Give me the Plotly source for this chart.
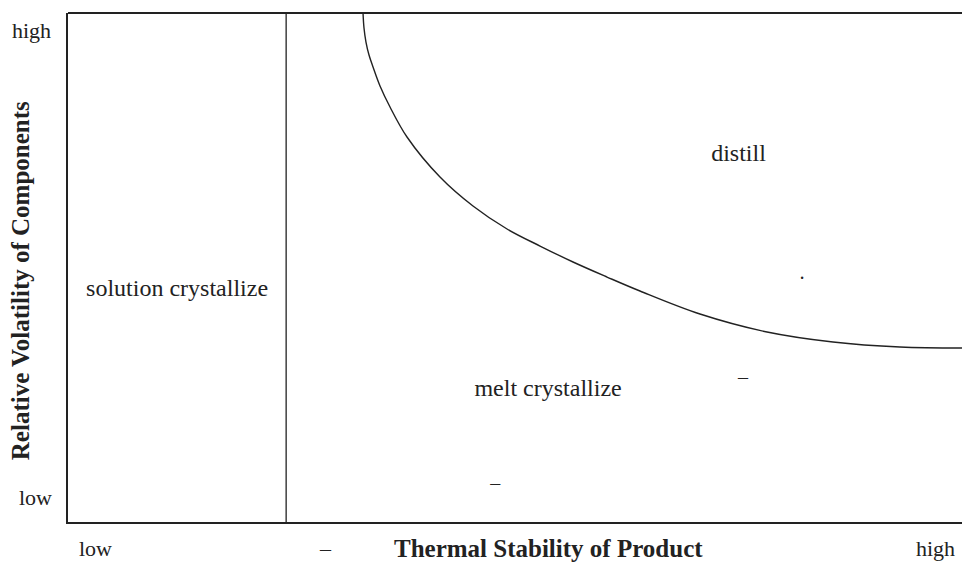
import plotly.graph_objects as go

# Boundary curve between "distill" and "melt crystallize" regions (x: thermal stability 0-100, y: relative volatility 0-100)
curve_x = [33.00, 33.11, 33.33, 33.67, 34.12, 34.90, 36.02, 37.92, 41.61, 45.30, 49.11,
           52.80, 56.49, 60.29, 63.98, 70.69, 78.19, 85.57, 93.06, 100.0]
curve_y = [100.0, 97.05, 94.30, 91.75, 89.39, 85.66, 81.53, 75.64, 67.78, 62.08, 57.56,
           54.22, 51.08, 48.13, 45.38, 40.86, 37.33, 35.36, 34.38, 34.18]

# Vertical boundary for solution crystallization
divider_x = 24.4

region_labels = ["solution crystallize", "distill", "melt crystallize"]
region_x = [12.2, 75.0, 53.7]
region_y = [45.6, 72.1, 25.9]

x_tick_labels = ["low", "high"]
y_tick_labels = ["low", "high"]

# specks in the scan
speck_x = [82.1, 75.5, 47.8]
speck_y = [47.5, 28.0, 7.3]
speck_text = ["·", "–", "–"]

FONT = "Liberation Serif"
INK = "#222"

fig = go.Figure()

fig.add_trace(go.Scatter(x=curve_x, y=curve_y, mode="lines",
                         line=dict(color=INK, width=1.4, shape="spline", smoothing=1.0),
                         hoverinfo="skip", showlegend=False))
fig.add_trace(go.Scatter(x=[divider_x, divider_x], y=[0, 100], mode="lines",
                         line=dict(color=INK, width=1.3), hoverinfo="skip", showlegend=False))
fig.add_trace(go.Scatter(x=region_x, y=region_y, mode="text", text=region_labels,
                         textfont=dict(family=FONT, size=24, color=INK),
                         hoverinfo="skip", showlegend=False))
fig.add_trace(go.Scatter(x=speck_x, y=speck_y, mode="text", text=speck_text,
                         textfont=dict(family=FONT, size=20, color=INK),
                         hoverinfo="skip", showlegend=False))

fig.update_xaxes(range=[0, 100], showgrid=False, zeroline=False, automargin=False,
                 showline=True, linecolor=INK, linewidth=2, showticklabels=False, ticks="")
fig.update_yaxes(range=[0, 100], showgrid=False, zeroline=False, automargin=False,
                 showline=True, linecolor=INK, linewidth=2, showticklabels=False, ticks="")

# top border line
fig.add_shape(type="line", xref="paper", yref="paper", x0=0, x1=1, y0=1, y1=1,
              line=dict(color=INK, width=2))

tick_font = dict(family=FONT, size=22, color=INK)
ann = [
    dict(text=y_tick_labels[1], x=-0.0403, y=0.9666),
    dict(text=y_tick_labels[0], x=-0.0359, y=0.0491),
    dict(text=x_tick_labels[0], x=0.0313, y=-0.0511),
    dict(text=x_tick_labels[1], x=0.9700, y=-0.0511),
    dict(text="–", x=0.2875, y=-0.0511),
]
for a in ann:
    fig.add_annotation(xref="paper", yref="paper", showarrow=False,
                       xanchor="center", yanchor="middle", font=tick_font, **a)

fig.add_annotation(xref="paper", yref="paper", showarrow=False, x=0.5380, y=-0.0511,
                   xanchor="center", yanchor="middle",
                   text="<b>Thermal Stability of Product</b>",
                   font=dict(family=FONT, size=25, color=INK))
fig.add_annotation(xref="paper", yref="paper", showarrow=False, x=-0.0537, y=0.475,
                   xanchor="center", yanchor="middle", textangle=-90,
                   text="<b>Relative Volatility of Components</b>",
                   font=dict(family=FONT, size=25, color=INK))

fig.update_layout(width=962, height=562, margin=dict(l=68, r=0, t=13, b=40, autoexpand=False),
                  plot_bgcolor="white", paper_bgcolor="white")

fig.write_html("out.html", config={"displayModeBar": False},
               post_script="document.body.style.margin='0';document.body.style.padding='0';document.body.style.overflow='hidden';")
